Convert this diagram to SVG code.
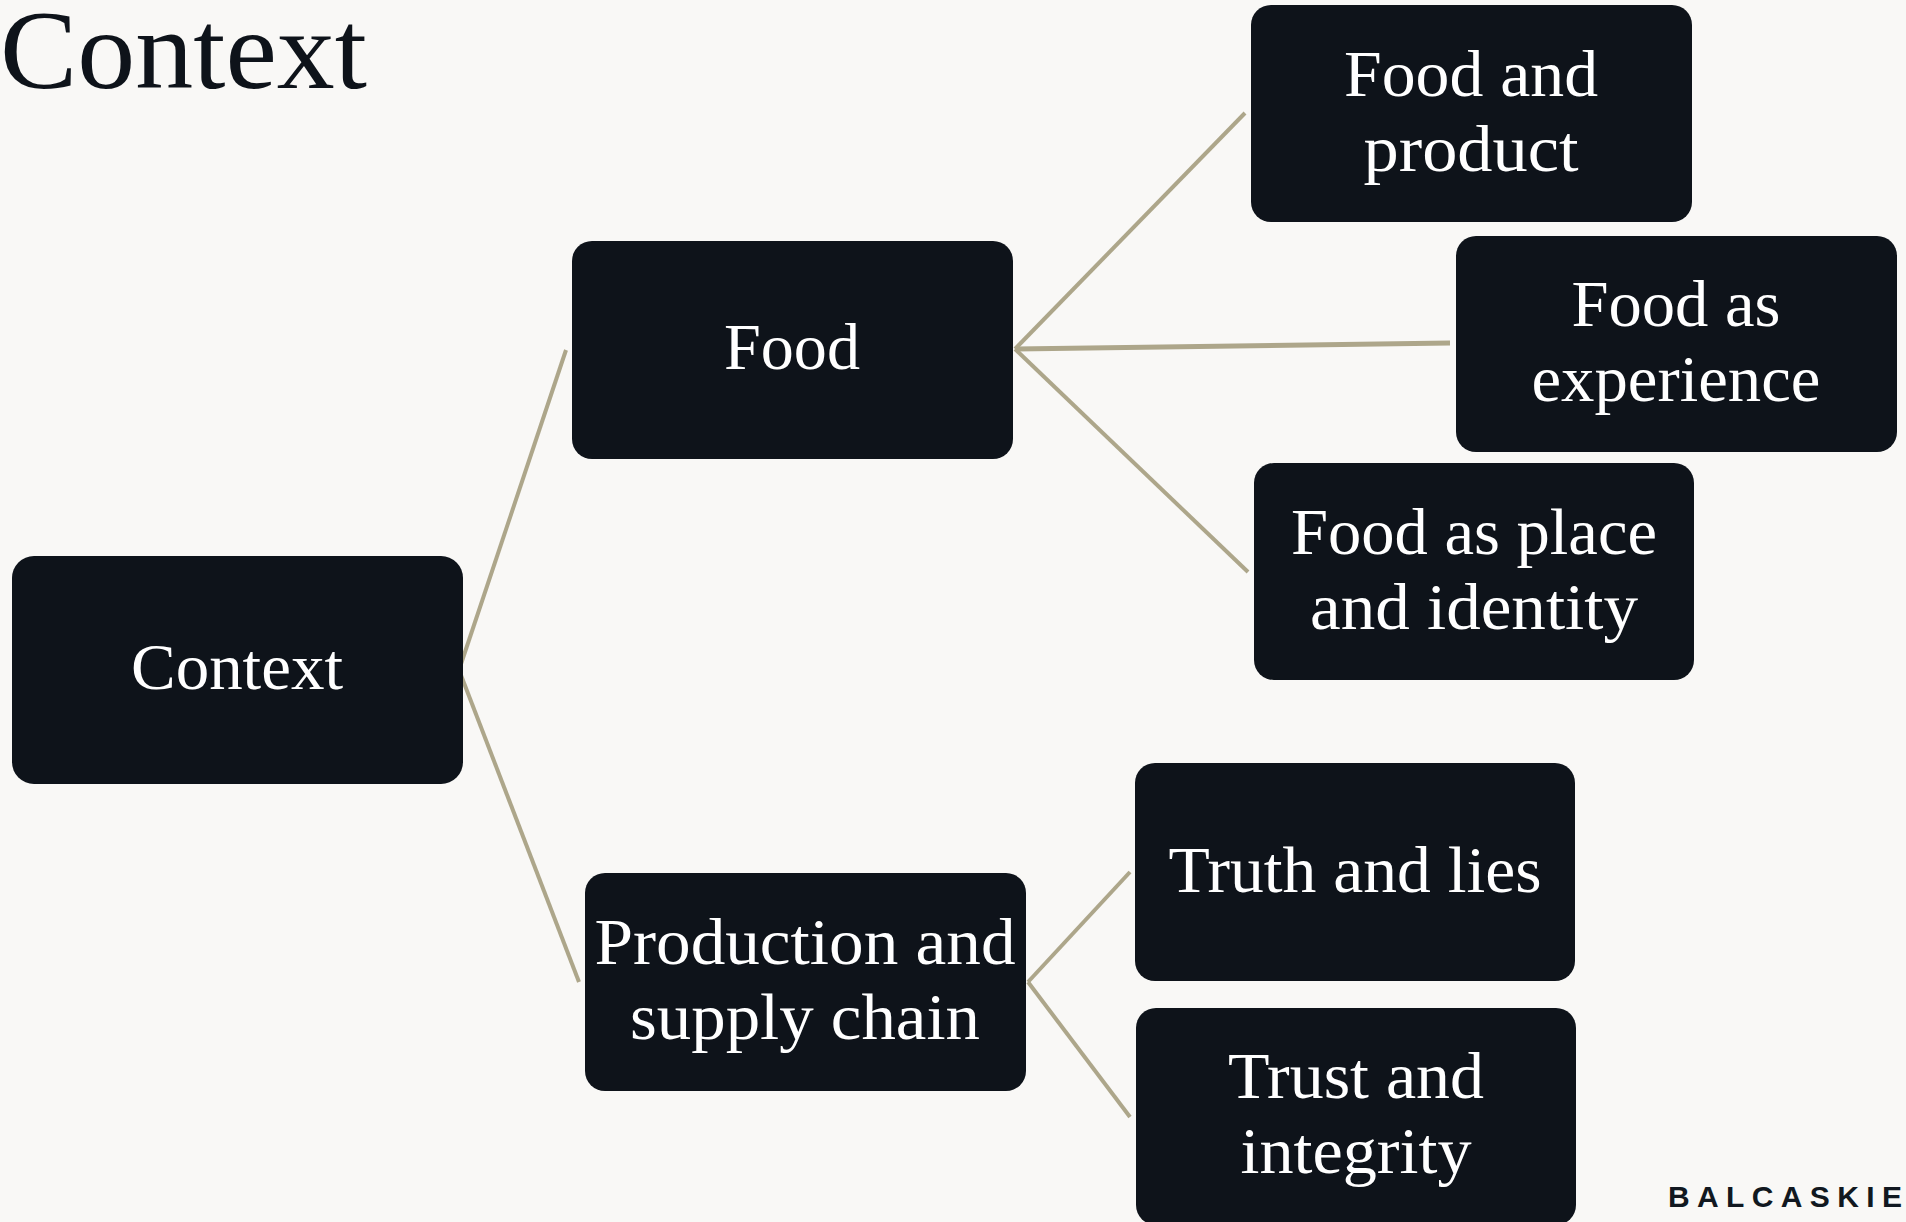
<svg xmlns="http://www.w3.org/2000/svg" width="1906" height="1222" viewBox="0 0 1906 1222">
<style>
.node rect{fill:#0E131A;}
.node text{fill:#FFFFFF;font-family:"Liberation Serif","Times New Roman",serif;font-size:66px;text-anchor:middle;}
.conn line{stroke:#ADA68A;stroke-width:4;stroke-linecap:butt;}
.title{fill:#0E131A;font-family:"Liberation Serif","Times New Roman",serif;font-size:113px;}
.brand{fill:#111820;font-family:"Liberation Sans",Arial,sans-serif;font-size:30px;font-weight:bold;}
</style>
<rect x="0" y="0" width="1906" height="1222" fill="#F9F8F6"/>
<text class="title" x="0" y="88" textLength="367" lengthAdjust="spacingAndGlyphs">Context</text>
<g id="connectors" class="conn">
<line x1="459" y1="670" x2="566" y2="350"/>
<line x1="459" y1="670" x2="579" y2="982"/>
<line x1="1015" y1="349" x2="1245" y2="113"/>
<line x1="1015" y1="349" x2="1450" y2="343" style="stroke-width:5"/>
<line x1="1015" y1="349" x2="1248" y2="572"/>
<line x1="1028" y1="982" x2="1130" y2="872"/>
<line x1="1028" y1="982" x2="1130" y2="1117"/>
</g>
<g id="node-context" class="node">
<rect x="12" y="556" width="451" height="228" rx="22"/>
<text x="237" y="689" textLength="212" lengthAdjust="spacingAndGlyphs">Context</text>
</g>
<g id="node-food" class="node">
<rect x="572" y="241" width="441" height="218" rx="20"/>
<text x="792" y="369" textLength="136" lengthAdjust="spacingAndGlyphs">Food</text>
</g>
<g id="node-production" class="node">
<rect x="585" y="873" width="441" height="218" rx="20"/>
<text x="805" y="964" textLength="421" lengthAdjust="spacingAndGlyphs">Production and</text>
<text x="805" y="1039" textLength="350" lengthAdjust="spacingAndGlyphs">supply chain</text>
</g>
<g id="node-food-product" class="node">
<rect x="1251" y="5" width="441" height="217" rx="20"/>
<text x="1471" y="96" textLength="254" lengthAdjust="spacingAndGlyphs">Food and</text>
<text x="1471" y="171" textLength="215" lengthAdjust="spacingAndGlyphs">product</text>
</g>
<g id="node-food-experience" class="node">
<rect x="1456" y="236" width="441" height="216" rx="20"/>
<text x="1676" y="326" textLength="209" lengthAdjust="spacingAndGlyphs">Food as</text>
<text x="1676" y="401" textLength="289" lengthAdjust="spacingAndGlyphs">experience</text>
</g>
<g id="node-food-place" class="node">
<rect x="1254" y="463" width="440" height="217" rx="20"/>
<text x="1474" y="554" textLength="366" lengthAdjust="spacingAndGlyphs">Food as place</text>
<text x="1474" y="629" textLength="328" lengthAdjust="spacingAndGlyphs">and identity</text>
</g>
<g id="node-truth" class="node">
<rect x="1135" y="763" width="440" height="218" rx="20"/>
<text x="1355" y="892" textLength="373" lengthAdjust="spacingAndGlyphs">Truth and lies</text>
</g>
<g id="node-trust" class="node">
<rect x="1136" y="1008" width="440" height="217" rx="20"/>
<text x="1356" y="1098" textLength="256" lengthAdjust="spacingAndGlyphs">Trust and</text>
<text x="1356" y="1173" textLength="231" lengthAdjust="spacingAndGlyphs">integrity</text>
</g>
<text class="brand" x="1668" y="1207" textLength="234" lengthAdjust="spacing">BALCASKIE</text>
</svg>
